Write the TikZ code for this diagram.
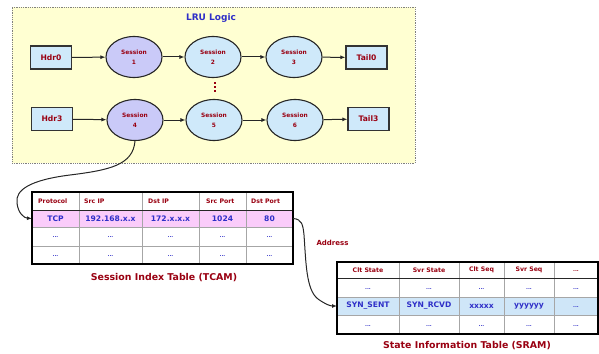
\documentclass[tikz,border=0pt]{standalone}
\usepackage{fontspec}
\setmainfont{DejaVu Sans}
\usetikzlibrary{shapes.geometric,arrows.meta}
\definecolor{dred}{HTML}{990011}
\definecolor{dblue}{HTML}{2F2FC8}
\definecolor{lyellow}{HTML}{FFFFD2}
\definecolor{lblue}{HTML}{CFE9FA}
\definecolor{lav}{HTML}{CACAF8}
\definecolor{lpink}{HTML}{FACCFA}
\definecolor{rowblue}{HTML}{CFE6F8}
\tikzset{
  hbox/.style={draw=black!80, line width=1.2pt, fill=lblue, minimum width=41pt, minimum height=23pt, inner sep=0pt, font=\bfseries\fontsize{7.6}{9}\selectfont, text=dred},
  sess/.style={ellipse, draw=black!85, line width=1.1pt, fill=lblue, minimum width=56pt, minimum height=41pt, inner sep=0pt, align=center, font=\bfseries\fontsize{5.9}{10}\selectfont, text=dred},
  arr/.style={-{Latex[length=5pt,width=4pt]}, line width=1pt, draw=black!85},
  hd/.style={font=\bfseries\fontsize{6.2}{7}\selectfont, text=dred, inner sep=0pt},
  dat/.style={font=\bfseries\fontsize{7.6}{8}\selectfont, text=dblue, inner sep=0pt},
  dots/.style={font=\bfseries\fontsize{5}{6}\selectfont, text=dblue, inner sep=0pt},
  rowbg/.style={draw=none, anchor=north west, inner sep=0pt, outer sep=0pt},
  gridline/.style={draw=black!35, line width=0.8pt},
  tcaption/.style={font=\bfseries\fontsize{9.4}{11}\selectfont, text=dred}
}
\begin{document}
\begin{tikzpicture}[x=1pt,y=-1pt]
\useasboundingbox (0,0) rectangle (599,353);
% LRU area
\node[rowbg, fill=lyellow, draw=black!50, densely dotted, line width=0.8pt, minimum width=403pt, minimum height=156pt] (lru) at (12,7) {};
\node[font=\bfseries\fontsize{9}{10}\selectfont, text=dblue] (lrut) at (211,18) {LRU Logic};
% row 1
\node[hbox] (h0) at (51,57.5) {Hdr0};
\node[sess, fill=lav] (s1) at (134,57) {Session\\1};
\node[sess] (s2) at (213,57) {Session\\2};
\node[sess] (s3) at (294,57) {Session\\3};
\node[hbox] (t0) at (366.5,57.5) {Tail0};
% row 2
\node[hbox] (h3) at (52,119) {Hdr3};
\node[sess, fill=lav] (s4) at (135,120) {Session\\4};
\node[sess] (s5) at (214,120) {Session\\5};
\node[sess] (s6) at (295,120) {Session\\6};
\node[hbox] (t3) at (368.5,119) {Tail3};
\foreach \yy in {83,87,91} \fill[dred] (214.2,\yy-0.9) rectangle (215.8,\yy+0.9);
\draw[arr] (h0) -- (s1);
\draw[arr] (s1) -- (s2);
\draw[arr] (s2) -- (s3);
\draw[arr] (s3) -- (t0);
\draw[arr] (h3) -- (s4);
\draw[arr] (s4) -- (s5);
\draw[arr] (s5) -- (s6);
\draw[arr] (s6) -- (t3);
% TCAM table
\node[rowbg, fill=white, minimum width=261pt, minimum height=18pt] (th) at (32,192) {};
\node[rowbg, fill=lpink, minimum width=261pt, minimum height=17pt] (tcp) at (32,210) {};
\node[rowbg, fill=white, minimum width=261pt, minimum height=19pt] (tr3) at (32,227) {};
\node[rowbg, fill=white, minimum width=261pt, minimum height=18pt] (tr4) at (32,246) {};
\foreach \x in {79,142,199,246} \draw[gridline] (\x,192) -- (\x,264);
\draw[gridline] (32,227) -- (293,227);
\draw[gridline] (32,246) -- (293,246);
\draw[black!85, line width=1pt] (32,210) -- (293,210);
\draw[black, line width=2pt] (32,192) rectangle (293,264);
\node[hd, anchor=west] (c1) at (38,201) {Protocol};
\node[hd, anchor=west] (c2) at (84,201) {Src IP};
\node[hd, anchor=west] (c3) at (148,201) {Dst IP};
\node[hd, anchor=west] (c4) at (206,201) {Src Port};
\node[hd, anchor=west] (c5) at (251,201) {Dst Port};
\node[dat] (d1) at (55.5,218.5) {TCP};
\node[dat] (d2) at (110.5,218.5) {192.168.x.x};
\node[dat] (d3) at (170.5,218.5) {172.x.x.x};
\node[dat] (d4) at (222.5,218.5) {1024};
\node[dat] (d5) at (269.5,218.5) {80};
\foreach \x/\n in {55.5/a,110.5/b,170.5/c,222.5/d,269.5/e} {
  \node[dots] (e3\n) at (\x,237) {...};
  \node[dots] (e4\n) at (\x,256) {...};
}
\node[tcaption] (tcapt) at (164,278) {Session Index Table (TCAM)};
% SRAM table
\node[rowbg, fill=white, minimum width=261pt, minimum height=16pt] (sh) at (337,262) {};
\node[rowbg, fill=white, minimum width=261pt, minimum height=19pt] (sr2) at (337,278) {};
\node[rowbg, fill=rowblue, minimum width=261pt, minimum height=18pt] (syn) at (337,297) {};
\node[rowbg, fill=white, minimum width=261pt, minimum height=19pt] (sr4) at (337,315) {};
\foreach \x in {399,459,504,554} \draw[gridline] (\x,262) -- (\x,334);
\draw[gridline] (337,297) -- (598,297);
\draw[gridline] (337,315) -- (598,315);
\draw[black!85, line width=1pt] (337,278) -- (598,278);
\draw[black, line width=2pt] (337,262) rectangle (598,334);
\node[hd] (k1) at (368,270) {Clt State};
\node[hd] (k2) at (429,270) {Svr State};
\node[hd] (k3) at (481.5,270) {Clt Seq};
\node[hd] (k4) at (529,270) {Svr Seq};
\node[dots, text=dred] (k5) at (576,271.5) {...};
\foreach \x/\n in {368/a,429/b,481.5/c,529/d,576/e} {
  \node[dots] (f2\n) at (\x,289) {...};
  \node[dots] (f4\n) at (\x,326) {...};
}
\node[dat] (g1) at (368,306) {SYN\_SENT};
\node[dat] (g2) at (429,306) {SYN\_RCVD};
\node[dat] (g3) at (481.5,306) {xxxxx};
\node[dat] (g4) at (529,306) {yyyyyy};
\node[dots] (g5) at (576,307.5) {...};
\node[tcaption] (scapt) at (467,346) {State Information Table (SRAM)};
% connectors
\draw[arr] (s4.south) .. controls (133,165) and (110,170) .. (70,175)
  .. controls (30,180) and (15,190) .. (17,203)
  .. controls (18,213) and (24,218) .. (tcp.west);
\draw[arr] (tcp.east) .. controls (302,219) and (303,225) .. (304,235)
  .. controls (306,262) and (306,290) .. (318,299)
  .. controls (325,304) and (330,306) .. (syn.west);
\node[font=\bfseries\fontsize{7}{8}\selectfont, text=dred, anchor=west] (addr) at (313,243) {Address};
\end{tikzpicture}
\end{document}
